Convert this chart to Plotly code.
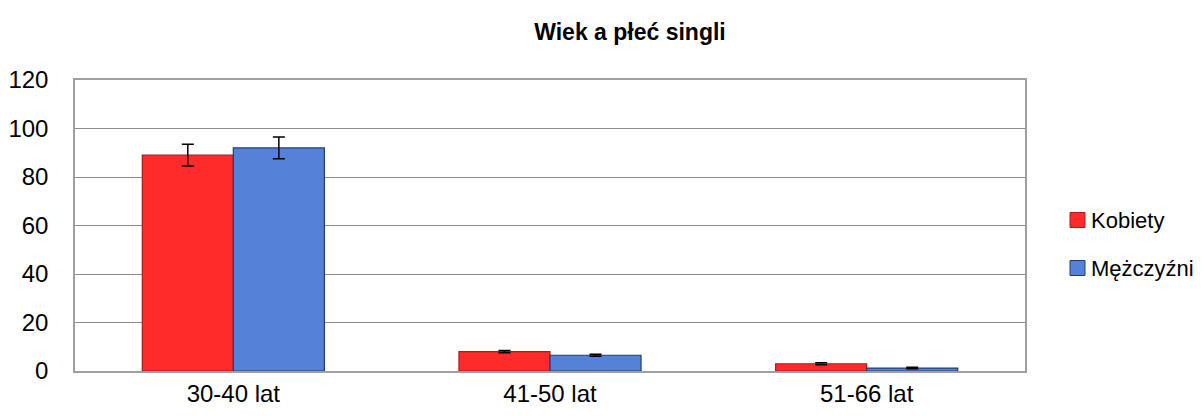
import plotly.graph_objects as go

categories = ["30-40 lat", "41-50 lat", "51-66 lat"]
kobiety = [89, 8, 3]
kobiety_err = [4.5, 0.5, 0.4]
mezczyzni = [92, 6.5, 1.2]
mezczyzni_err = [4.5, 0.4, 0.3]
y_ticks = [0, 20, 40, 60, 80, 100, 120]
series_names = ["Kobiety", "Mężczyźni"]
series_colors = ["#FF2B2B", "#5582D8"]
series_edges = ["#B01A1A", "#203E75"]

font = "Liberation Sans"

W, H = 1204, 416
ML, MR, MT, MB = 67, 187, 72, 53
PW = W - ML - MR
PH = H - MT - MB

fig = go.Figure()
for name, vals, errs, col, edge in zip(series_names, [kobiety, mezczyzni],
                                       [kobiety_err, mezczyzni_err],
                                       series_colors, series_edges):
    fig.add_trace(go.Bar(
        name=name, x=categories, y=vals,
        marker=dict(color=col, line=dict(color=edge, width=1.2)),
        error_y=dict(type="data", array=errs, color="black", thickness=1.5, width=6),
        showlegend=False,
    ))

def px_x(fx):
    return (fx - ML) / PW

def px_y(fy):
    return (H - MB - fy) / PH

# manual legend (placed so that it may overflow the right edge like the original)
legend_centers = [212, 260]
for name, col, edge, cy in zip(series_names, series_colors, series_edges, legend_centers):
    fig.add_shape(type="rect", xref="paper", yref="paper",
                  x0=px_x(1062), x1=px_x(1077), y0=px_y(cy + 7.5), y1=px_y(cy - 7.5),
                  fillcolor=col, line=dict(color=edge, width=1))
    fig.add_annotation(xref="paper", yref="paper", x=px_x(1081), y=px_y(cy),
                       xanchor="left", yanchor="middle", text=name, showarrow=False,
                       font=dict(family=font, size=22, color="black"))

fig.update_layout(
    width=W, height=H,
    margin=dict(l=ML, r=MR, t=MT, b=MB),
    paper_bgcolor="white", plot_bgcolor="white",
    barmode="group", bargap=0.425, bargroupgap=0.0,
    title=dict(text="<b>Wiek a płeć singli</b>", x=0.5166, xanchor="center",
               y=0.942, yanchor="middle",
               font=dict(family=font, size=23, color="black")),
    font=dict(family=font, size=24, color="black"),
    showlegend=False,
)
fig.update_xaxes(showgrid=False, showline=True, linecolor="#A0A0A0", linewidth=1.5,
                 mirror=True, ticks="", tickfont=dict(size=24), automargin=False)
fig.update_yaxes(range=[0, 120], tickvals=y_ticks, showgrid=True, gridcolor="#8C8C8C",
                 gridwidth=1, showline=True, linecolor="#A0A0A0", linewidth=1.5,
                 mirror=True, ticks="", zeroline=False, tickfont=dict(size=24),
                 ticklabelstandoff=20, automargin=False)

fig.write_html("out.html")
